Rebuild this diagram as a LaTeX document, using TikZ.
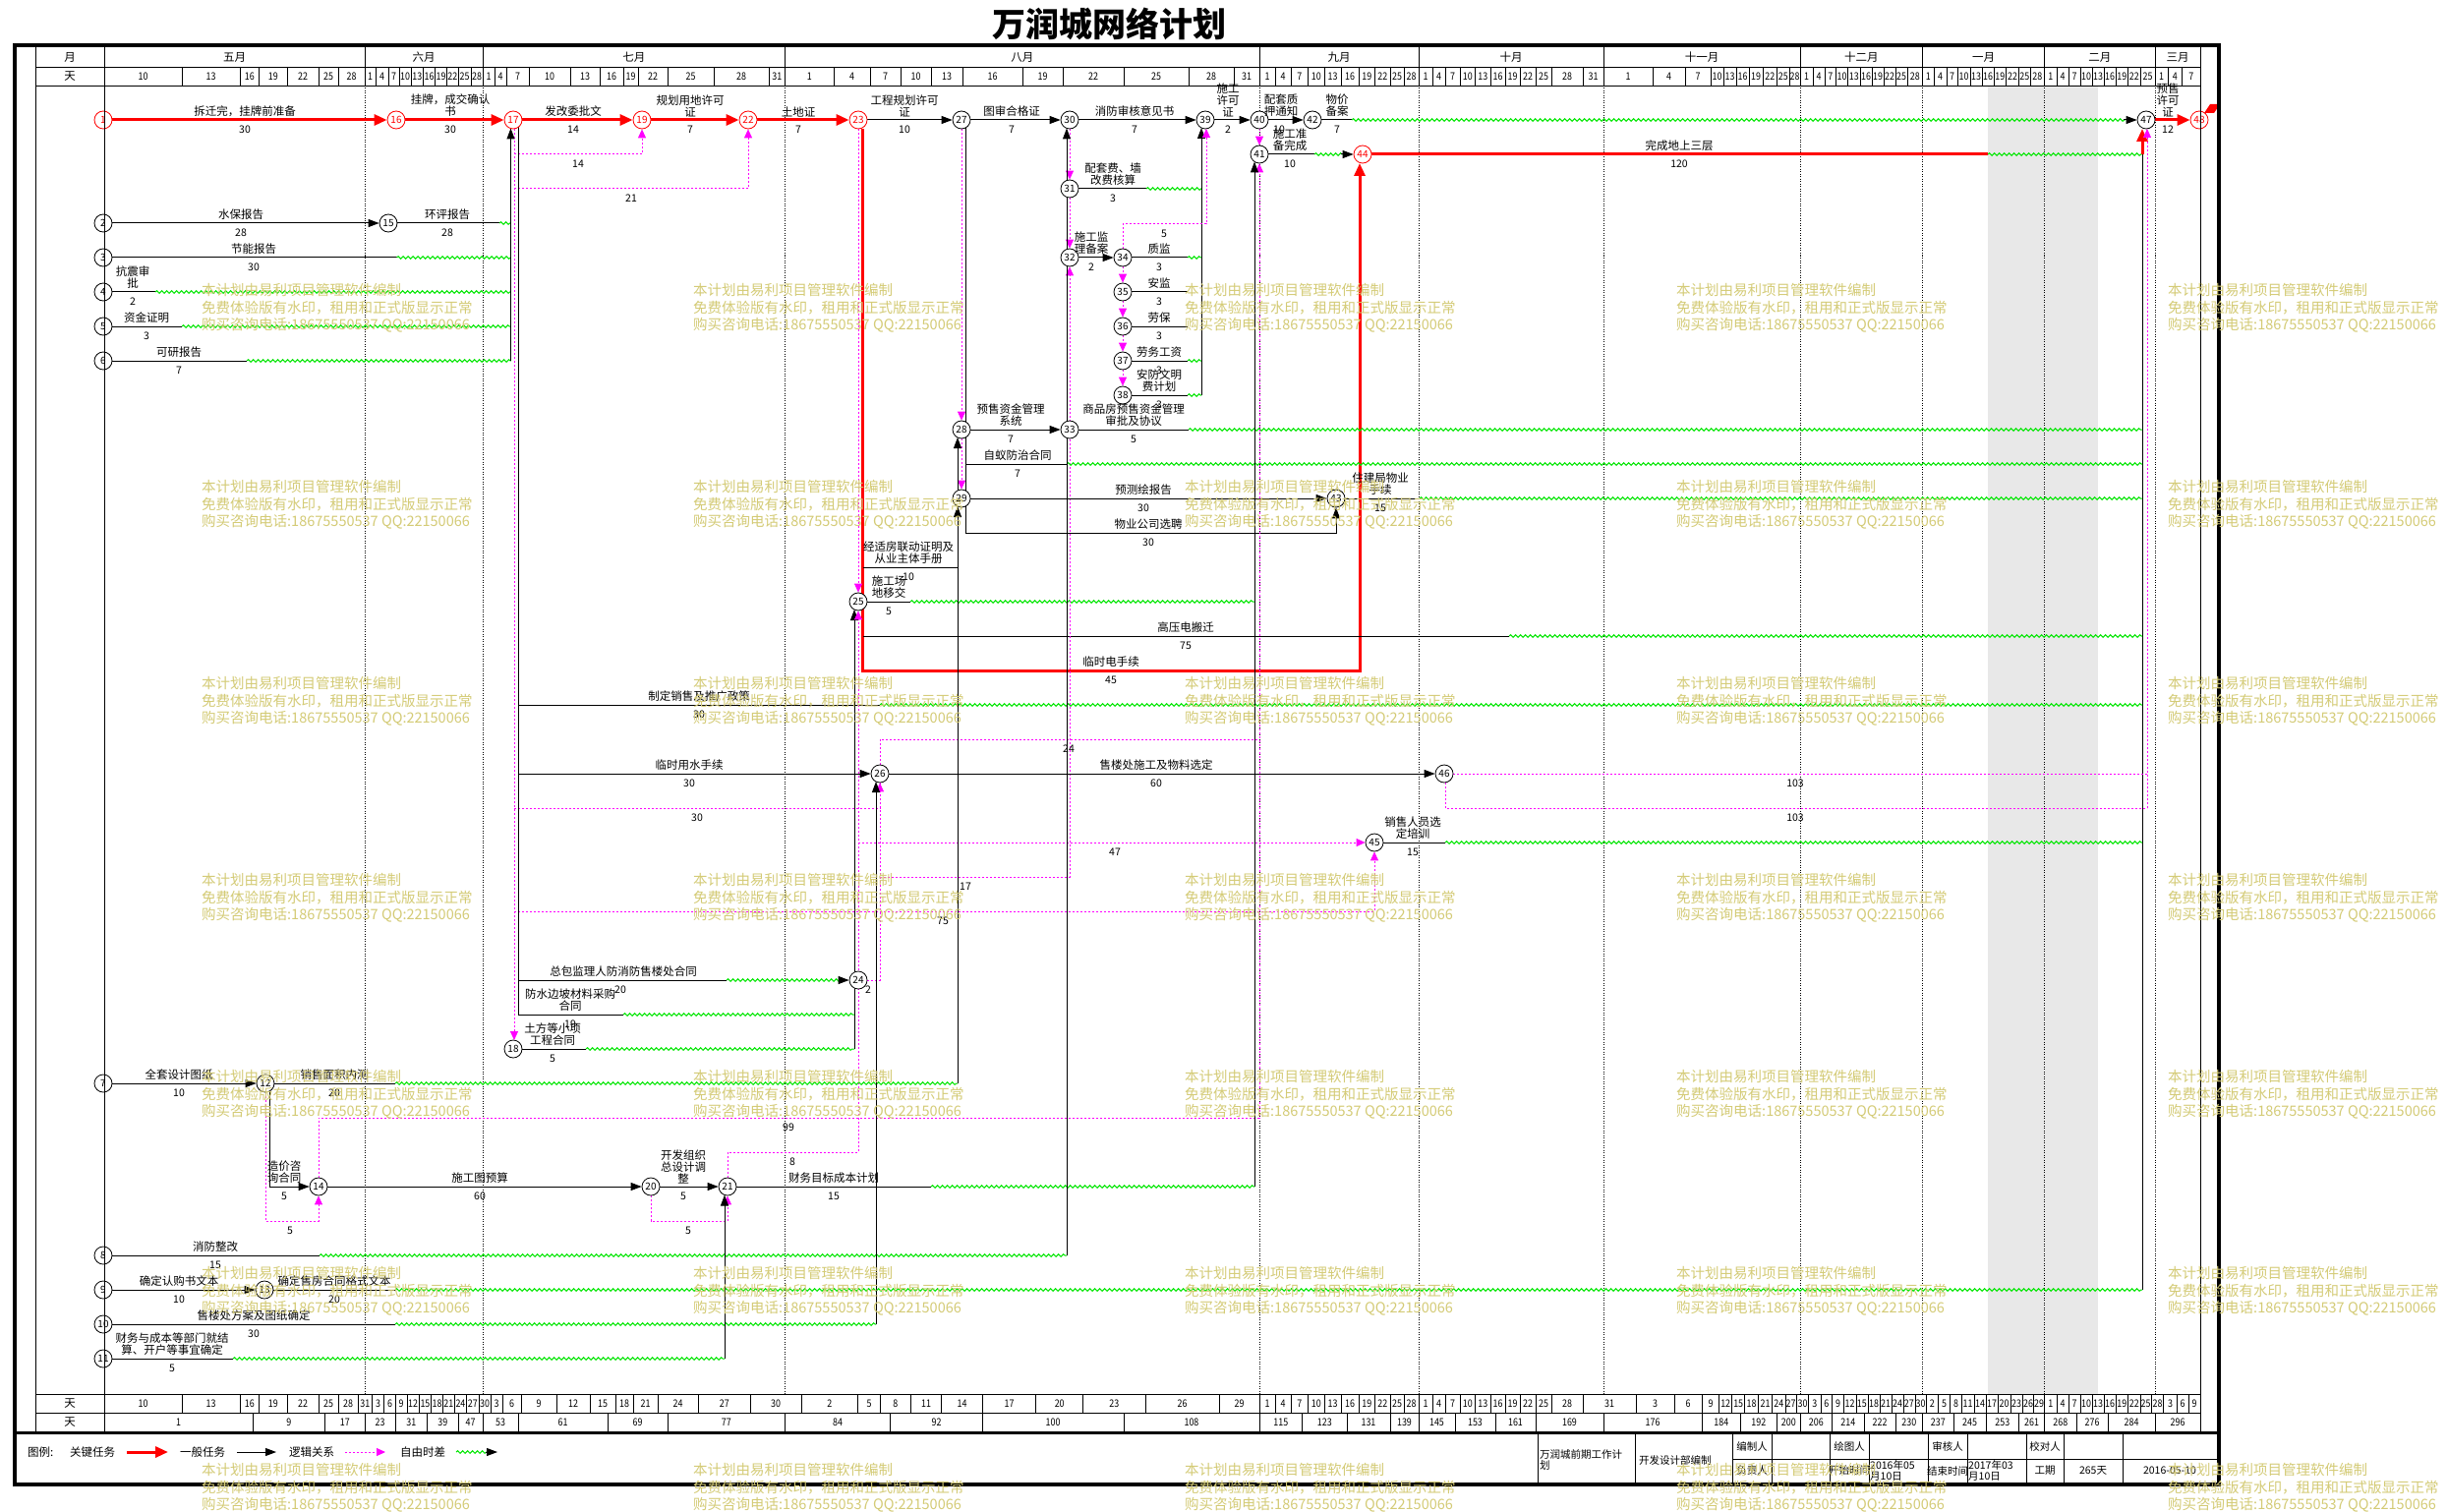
\documentclass[tikz,border=0pt]{standalone}
\usepackage{fontspec}
\setmainfont{Noto Sans CJK SC}
\newfontfamily\cjk{Noto Sans CJK SC}
\newfontfamily\cjkn[FakeStretch=0.85]{Noto Sans CJK SC}
\usetikzlibrary{arrows.meta,decorations.pathmorphing}
\definecolor{wgreen}{RGB}{0,230,0}
\definecolor{dmag}{RGB}{255,0,255}
\definecolor{wmc}{RGB}{212,203,118}
\definecolor{cred}{RGB}{255,0,0}
\pgfdeclarelayer{back}\pgfdeclarelayer{conn}\pgfdeclarelayer{front}
\pgfsetlayers{back,conn,main,front}
\newcommand\lfont{\cjk\fontsize{11.5}{12}\selectfont}
\newcommand\dfont{\cjk\fontsize{10.5}{11}\selectfont}
\newcommand\nfont{\cjk\fontsize{10}{11}\selectfont}
\newcommand\hfont{\cjkn\fontsize{10.5}{11}\selectfont}
\newcommand\mfont{\cjk\fontsize{11.5}{12}\selectfont}
\newcommand\wfont{\cjk\fontsize{14.5}{18}\selectfont}
\newcommand\tfont{\cjk\bfseries\fontsize{34}{36}\selectfont}
\newcommand\bfontx{\cjk\fontsize{10.5}{11.5}\selectfont}
\newcounter{lbc}
\newcommand\Lbl[3]{\stepcounter{lbc}\node[lab] (lb\arabic{lbc}) at (#1,{#2-3}) {#3};}
\newcommand\Nmb[3]{\stepcounter{lbc}\node[num] (nm\arabic{lbc}) at (#1,{#2+10}) {#3};}
\begin{document}
\begin{tikzpicture}[x=1pt,y=-1pt,
 nd/.style={circle,draw=black,fill=white,line width=0.8pt,minimum size=18pt,inner sep=0pt,font=\nfont},
 cn/.style={nd,draw=cred,text=cred},
 gen/.style={draw=black,line width=1pt},
 gena/.style={gen,-{Triangle[length=11pt,width=8pt]}},
 crit/.style={draw=cred,line width=3pt},
 crita/.style={crit,-{Triangle[length=13pt,width=11pt]}},
 dum/.style={draw=dmag,line width=1pt,dash pattern=on 2pt off 2pt},
 duma/.style={dum,-{Triangle[length=9pt,width=8pt]}},
 wav/.style={draw=wgreen,line width=1pt,decorate,decoration={snake,amplitude=1.3pt,segment length=5pt}},
 lab/.style={font=\lfont,align=center,inner sep=0pt,anchor=south},
 num/.style={font=\dfont,inner sep=0pt},
 mline/.style={draw=black,line width=0.7pt,dash pattern=on 1pt off 1.5pt},
 grid/.style={draw=black,line width=0.8pt},
 hd/.style={font=\hfont,inner sep=0pt},
 hm/.style={font=\mfont,inner sep=0pt},
 wm/.style={font=\wfont,text=wmc,anchor=west,inner sep=0pt},
 tb/.style={font=\bfontx,inner sep=0pt}
]
\useasboundingbox (0,0) rectangle (2489,1538);
\begin{pgfonlayer}{back}
\fill[white] (0,0) rectangle (2489,1538);
\fill[gray!18] (2022,87) rectangle (2134,1418);
\foreach \xx in {371,491,798.5,1281,1443,1631,1831,1955.5,2079.6,2192} {\draw[mline] (\xx,87) -- (\xx,1418);}
\end{pgfonlayer}

% ---------- nodes ----------
\node[cn] (n1) at (105,122) {1};
\node[nd] (n2) at (105,227) {2};
\node[nd] (n3) at (105,262) {3};
\node[nd] (n4) at (105,297) {4};
\node[nd] (n5) at (105,332) {5};
\node[nd] (n6) at (105,367) {6};
\node[nd] (n7) at (105,1102) {7};
\node[nd] (n8) at (105,1277) {8};
\node[nd] (n9) at (105,1312) {9};
\node[nd] (n10) at (105,1347) {10};
\node[nd] (n11) at (105,1382) {11};
\node[nd] (n12) at (270,1102) {12};
\node[nd] (n13) at (269,1312) {13};
\node[nd] (n14) at (324,1207) {14};
\node[nd] (n15) at (395,227) {15};
\node[cn] (n16) at (403,122) {16};
\node[cn] (n17) at (522,122) {17};
\node[nd] (n18) at (522,1067) {18};
\node[cn] (n19) at (653,122) {19};
\node[nd] (n20) at (662,1207) {20};
\node[nd] (n21) at (740,1207) {21};
\node[cn] (n22) at (761,122) {22};
\node[cn] (n23) at (873,122) {23};
\node[nd] (n24) at (873,997) {24};
\node[nd] (n25) at (873,612) {25};
\node[nd] (n26) at (895,787) {26};
\node[nd] (n27) at (978,122) {27};
\node[nd] (n28) at (978,437) {28};
\node[nd] (n29) at (978,507) {29};
\node[nd] (n30) at (1088,122) {30};
\node[nd] (n31) at (1088,192) {31};
\node[nd] (n32) at (1088,262) {32};
\node[nd] (n33) at (1088,437) {33};
\node[nd] (n34) at (1142,262) {34};
\node[nd] (n35) at (1142,297) {35};
\node[nd] (n36) at (1142,332) {36};
\node[nd] (n37) at (1142,367) {37};
\node[nd] (n38) at (1142,402) {38};
\node[nd] (n39) at (1226,122) {39};
\node[nd] (n40) at (1281,122) {40};
\node[nd] (n41) at (1281,157) {41};
\node[nd] (n42) at (1335,122) {42};
\node[nd] (n43) at (1359,507) {43};
\node[cn] (n44) at (1386,157) {44};
\node[nd] (n45) at (1398,857) {45};
\node[nd] (n46) at (1469,787) {46};
\node[nd] (n47) at (2183,122) {47};
\node[cn] (n48) at (2237,122) {48};

% ---------- connectors ----------
\begin{pgfonlayer}{conn}
% critical path
\draw[crita] (n1) -- (n16);
\draw[crita] (n16) -- (n17);
\draw[crita] (n17) -- (n19);
\draw[crita] (n19) -- (n22);
\draw[crita] (n22) -- (n23);
\draw[crita] (877,131) -- (877,682) -- (1383,682) -- (1383,166);
\draw[crit] (n44) -- (2022,157);
\draw[wav] (2022,157) -- (2179,157);
\draw[crita] (2179,157) -- (2179,131);
\draw[crita] (n47) -- (n48);
\fill[cred] (2242,115) -- (2248,106) -- (2258,106) -- (2252,115) -- cycle;
% top row general
\draw[gena] (n23) -- (n27);
\draw[gena] (n27) -- (n30);
\draw[gena] (n30) -- (n39);
\draw[gena] (n39) -- (n40);
\draw[gena] (n40) -- (n42);
\draw[gen] (n42) -- (1375,122);
\draw[wav] (1375,122) -- (2162,122);
\draw[gena] (2160,122) -- (n47);
\draw[duma] (n40) -- (n41);
\draw[gen] (n41) -- (1337,157);
\draw[wav] (1337,157) -- (1366,157);
\draw[gena] (1364,157) -- (n44);
\draw[gen] (2179,1312) -- (2179,157);
% 17 dummies
\draw[duma] (523,131) -- (523,1058);
\draw[duma] (523,157) -| (n19);
\draw[duma] (523,192) -| (n22);
\draw[duma] (523,822) -| (n26);
\draw[duma] (523,927) -| (n45);
% rows 2-6
\draw[gena] (n2) -- (n15);
\draw[gen] (n15) -- (508,227); \draw[wav] (508,227) -- (519.5,227);
\draw[gen] (n3) -- (403.6,262); \draw[wav] (403.6,262) -- (519.5,262);
\draw[gen] (n4) -- (158,297); \draw[wav] (158,297) -- (519.5,297);
\draw[gen] (n5) -- (185,332); \draw[wav] (185,332) -- (519.5,332);
\draw[gen] (n6) -- (251,367); \draw[wav] (251,367) -- (519.5,367);
\draw[gena] (519.5,367) -- (519.5,130.5);
% 17 outgoing trunk
\draw[gen] (527,129.5) -- (527,1032);
\draw[gen] (527,717) -- (895,717); \draw[wav] (895,717) -- (2179,717);
\draw[gena] (527,787) -- (n26);
\draw[gen] (527,997) -- (739,997); \draw[wav] (739,997) -- (860,997); \draw[gena] (858,997) -- (n24);
\draw[gen] (527,1032) -- (634,1032); \draw[wav] (634,1032) -- (869,1032);
\draw[gen] (n18) -- (596,1067); \draw[wav] (596,1067) -- (869,1067);
\draw[gen] (869,1067) -- (869,1005);
\draw[gena] (869,989) -- (869,620);
% 23 area
\draw[duma] (n23) -- (n25);
\draw[gen] (878,577) -- (974,577);
\draw[gen] (878,647) -- (1535,647); \draw[wav] (1535,647) -- (2179,647);
\draw[gen] (n25) -- (926,612); \draw[wav] (926,612) -- (1276,612);
\draw[duma] (873,857) -- (n45);
\draw[duma] (n21) |- (873,1172) -- (n25);
% 24 / 26 dummies
\draw[dum] (n24) -| (895,752) -- (1281,752);
\draw[duma] (895,892) -- (1088,892) -- (n32);
\draw[gena] (n26) -- (n46);
\draw[dum] (n46) -- (2184,787);
\draw[dum] (1470,796) |- (2184,822);
\draw[duma] (2184,822) -- (2184,131);
\draw[gen] (n45) -- (1470,857); \draw[wav] (1470,857) -- (2179,857);
% 27-33
\draw[duma] (n27) -- (n28);
\draw[duma] (n28) -- (n29);
\draw[gen] (982,130) -- (982,542);
\draw[gen] (982,472) -- (1085,472); \draw[wav] (1085,472) -- (2179,472);
\draw[gena] (982,542) -| (n43);
\draw[gena] (n29) -- (n43);
\draw[gen] (n43) -- (1444,507); \draw[wav] (1444,507) -- (2179,507);
\draw[gena] (n28) -- (n33);
\draw[gen] (n33) -- (1209,437); \draw[wav] (1209,437) -- (2179,437);
\draw[gena] (974,1102) -- (974,515);
\draw[gena] (974,499) -- (974,445);
\draw[duma] (n30) -- (n31);
\draw[duma] (n31) -- (n32);
\draw[gen] (n31) -- (1166,192); \draw[wav] (1166,192) -- (1222,192);
\draw[gena] (n32) -- (n34);
\draw[gen] (n34) -- (1208,262); \draw[wav] (1208,262) -- (1222,262);
\draw[gen] (n35) -- (1208,297);
\draw[gen] (n36) -- (1208,332);
\draw[gen] (n37) -- (1208,367); \draw[wav] (1208,367) -- (1222,367);
\draw[gen] (n38) -- (1208,402); \draw[wav] (1208,402) -- (1222,402);
\draw[gena] (1222,402) -- (1222,130);
\draw[duma] (n34) -- (n35);
\draw[duma] (n35) -- (n36);
\draw[duma] (n36) -- (n37);
\draw[duma] (n37) -- (n38);
\draw[duma] (n34) |- (1227,228) -- (1227,131);
% bottom area
\draw[gena] (n7) -- (n12);
\draw[gen] (n12) -- (402,1102); \draw[wav] (402,1102) -- (974,1102);
\draw[gena] (274,1110) |- (n14);
\draw[duma] (n12) |- (324,1242) -- (n14);
\draw[duma] (n14) |- (1281,1137) -- (n41);
\draw[gena] (n14) -- (n20);
\draw[gena] (n20) -- (n21);
\draw[duma] (n20) |- (740,1242) -- (n21);
\draw[gen] (n21) -- (947,1207); \draw[wav] (947,1207) -- (1276,1207);
\draw[gena] (1276,1207) -- (1276,164.5);
\draw[gen] (n8) -- (325,1277); \draw[wav] (325,1277) -- (1085,1277);
\draw[gena] (1085,1277) -- (1085,130.5);
\draw[gena] (n9) -- (n13);
\draw[gen] (n13) -- (402,1312); \draw[wav] (402,1312) -- (2179,1312);
\draw[gen] (n10) -- (402,1347); \draw[wav] (402,1347) -- (891,1347);
\draw[gena] (891,1347) -- (891,795);
\draw[gen] (n11) -- (237,1382); \draw[wav] (237,1382) -- (737,1382);
\draw[gena] (737,1382) -- (737,1215.5);
\end{pgfonlayer}

% ---------- labels ----------
\Lbl{249}{122}{拆迁完，挂牌前准备} \Nmb{249}{122}{30}
\Lbl{458}{122}{挂牌，成交确认\\书} \Nmb{458}{122}{30}
\Lbl{583}{122}{发改委批文} \Nmb{583}{122}{14}
\Lbl{702}{122}{规划用地许可\\证} \Nmb{702}{122}{7}
\Lbl{812}{122}{土地证} \Nmb{812}{122}{7}
\Lbl{920}{122}{工程规划许可\\证} \Nmb{920}{122}{10}
\Lbl{1029}{122}{图审合格证} \Nmb{1029}{122}{7}
\Lbl{1154}{122}{消防审核意见书} \Nmb{1154}{122}{7}
\Lbl{1249}{122}{施工\\许可\\证} \Nmb{1249}{122}{2}
\Lbl{1303}{122}{配套质\\押通知} \Nmb{1301}{122}{10}
\Lbl{1360}{122}{物价\\备案} \Nmb{1360}{122}{7}
\Lbl{2205}{122}{预售\\许可\\证} \Nmb{2205}{122}{12}
\Lbl{1312}{157}{施工准\\备完成} \Nmb{1312}{157}{10}
\Lbl{1708}{157}{完成地上三层} \Nmb{1708}{157}{120}
\Nmb{588}{157}{14} \Nmb{642}{192}{21}
\Lbl{245}{227}{水保报告} \Nmb{245}{227}{28}
\Lbl{455}{227}{环评报告} \Nmb{455}{227}{28}
\Lbl{258}{262}{节能报告} \Nmb{258}{262}{30}
\Lbl{135}{297}{抗震审\\批} \Nmb{135}{297}{2}
\Lbl{149}{332}{资金证明} \Nmb{149}{332}{3}
\Lbl{182}{367}{可研报告} \Nmb{182}{367}{7}
\Lbl{1132}{192}{配套费、墙\\改费核算} \Nmb{1132}{192}{3}
\Lbl{1110}{262}{施工监\\理备案} \Nmb{1110}{262}{2}
\Lbl{1179}{262}{质监} \Nmb{1179}{262}{3}
\Nmb{1184}{228}{5}
\Lbl{1179}{297}{安监} \Nmb{1179}{297}{3}
\Lbl{1179}{332}{劳保} \Nmb{1179}{332}{3}
\Lbl{1179}{367}{劳务工资} \Nmb{1179}{367}{3}
\Lbl{1179}{402}{安防文明\\费计划} \Nmb{1179}{402}{3}
\Lbl{1028}{437}{预售资金管理\\系统} \Nmb{1028}{437}{7}
\Lbl{1153}{437}{商品房预售资金管理\\审批及协议} \Nmb{1153}{437}{5}
\Lbl{1035}{472}{自蚁防治合同} \Nmb{1035}{472}{7}
\Lbl{1163}{507}{预测绘报告} \Nmb{1163}{507}{30}
\Lbl{1404}{507}{住建局物业\\手续} \Nmb{1404}{507}{15}
\Lbl{1168}{542}{物业公司选聘} \Nmb{1168}{542}{30}
\Lbl{924}{577}{经适房联动证明及\\从业主体手册} \Nmb{924}{577}{10}
\Lbl{904}{612}{施工场\\地移交} \Nmb{904}{612}{5}
\Lbl{1206}{647}{高压电搬迁} \Nmb{1206}{647}{75}
\Lbl{1130}{682}{临时电手续} \Nmb{1130}{682}{45}
\Lbl{711}{717}{制定销售及推广政策} \Nmb{711}{717}{30}
\Nmb{1087}{752}{24}
\Lbl{701}{787}{临时用水手续} \Nmb{701}{787}{30}
\Lbl{1176}{787}{售楼处施工及物料选定} \Nmb{1176}{787}{60}
\Nmb{1826}{787}{103}
\Nmb{709}{822}{30} \Nmb{1826}{822}{103}
\Lbl{1437}{857}{销售人员选\\定培训} \Nmb{1437}{857}{15}
\Nmb{1134}{857}{47}
\Nmb{982}{892}{17}
\Nmb{959}{927}{75}
\Lbl{634}{997}{总包监理人防消防售楼处合同} \Nmb{631}{997}{20}
\Nmb{883}{997}{2}
\Lbl{580}{1032}{防水边坡材料采购\\合同} \Nmb{580}{1032}{19}
\Lbl{562}{1067}{土方等小项\\工程合同} \Nmb{562}{1067}{5}
\Lbl{182}{1102}{全套设计图纸} \Nmb{182}{1102}{10}
\Lbl{340}{1102}{销售面积内测} \Nmb{340}{1102}{20}
\Nmb{802}{1137}{99}
\Nmb{806}{1172}{8}
\Lbl{289}{1207}{造价咨\\询合同} \Nmb{289}{1207}{5}
\Lbl{488}{1207}{施工图预算} \Nmb{488}{1207}{60}
\Lbl{695}{1207}{开发组织\\总设计调\\整} \Nmb{695}{1207}{5}
\Lbl{848}{1207}{财务目标成本计划} \Nmb{848}{1207}{15}
\Nmb{295}{1242}{5} \Nmb{700}{1242}{5}
\Lbl{219}{1277}{消防整改} \Nmb{219}{1277}{15}
\Lbl{182}{1312}{确定认购书文本} \Nmb{182}{1312}{10}
\Lbl{340}{1312}{确定售房合同格式文本} \Nmb{340}{1312}{20}
\Lbl{258}{1347}{售楼处方案及图纸确定} \Nmb{258}{1347}{30}
\Lbl{175}{1382}{财务与成本等部门就结\\算、开户等事宜确定} \Nmb{175}{1382}{5}

% ---------- frame and scales ----------
\node[font=\tfont,inner sep=0pt] (title) at (1128,24) {万润城网络计划};
\draw[line width=4pt] (15,46.5) rectangle (2257,1510);
\draw[line width=3pt] (15,1457.5) -- (2257,1457.5);
\draw[grid] (36,48) -- (36,1457);
\draw[grid] (2238,48) -- (2238,1457);
\draw[grid] (106,48) -- (106,1456);
\draw[grid] (36,68) -- (2238,68);
\draw[grid] (36,87) -- (2238,87);
\draw[grid] (36,1418) -- (2238,1418);
\draw[grid] (36,1437) -- (2238,1437);
\node[hm] (hmo) at (71,58) {月};
\node[hm] (hdy) at (71,77.5) {天};
\node[hm] (bdy1) at (71,1427.5) {天};
\node[hm] (bdy2) at (71,1446.5) {天};
\foreach \xa/\xb/\tx [count=\i] in {106/371/五月,371/491/六月,491/798.5/七月,798.5/1281/八月,1281/1443/九月,1443/1631/十月,1631/1831/十一月,1831/1955.5/十二月,1955.5/2079.6/一月,2079.6/2192/二月,2192/2238/三月}
 {\draw[grid] (\xb,48) -- (\xb,68); \node[hm] (mo\i) at ({(\xa+\xb)/2},58) {\tx};}
\foreach \xa/\xb/\tx [count=\i] in {106/185/10,185/244/13,244/263.5/16,263.5/292/19,292/324/22,324/344/25,344/371/28,
371/382/1,382/395/4,395/406/7,406/418/10,418/430.5/13,430.5/442.6/16,442.6/454.6/19,454.6/466/22,466/479/25,479/491/28,
491/503/1,503/515/4,515/538/7,538/580/10,580/610/13,610/634/16,634/649/19,649/679/22,679/726/25,726/782/28,782/798.5/31,
798.5/848/1,848/885/4,885/916/7,916/947/10,947/979/13,979/1040/16,1040/1081/19,1081/1143/22,1143/1209/25,1209/1255/28,1255/1281/31,
1281/1297/1,1297/1313/4,1313/1330.6/7,1330.6/1347/10,1347/1364/13,1364/1382/16,1382/1398.5/19,1398.5/1414/22,1414/1428/25,1428/1443/28,
1443/1457/1,1457/1470/4,1470/1485/7,1485/1500.5/10,1500.5/1516/13,1516/1531/16,1531/1546/19,1546/1562/22,1562/1578/25,1578/1610/28,1610/1631/31,
1631/1681/1,1681/1714/4,1714/1740/7,1740/1753/10,1753/1766/13,1766/1779/16,1779/1793/19,1793/1807.5/22,1807.5/1820/25,1820/1831/28,
1831/1844/1,1844/1856/4,1856/1867.6/7,1867.6/1879.5/10,1879.5/1892/13,1892/1904/16,1904/1916/19,1916/1928/22,1928/1940/25,1940/1955.5/28,
1955.5/1967/1,1967/1980/4,1980/1991/7,1991/2004/10,2004/2016/13,2016/2028/16,2028/2040.5/19,2040.5/2053.5/22,2053.5/2065/25,2065/2079.6/28,
2079.6/2092/1,2092/2104/4,2104/2116/7,2116/2128/10,2128/2140/13,2140/2152/16,2152/2164.6/19,2164.6/2177/22,2177/2192/25,
2192/2205/1,2205/2219.6/4,2219.6/2238/7}
 {\draw[grid,line width=0.6pt] (\xb,68) -- (\xb,87); \node[hd] (dy\i) at ({(\xa+\xb)/2},77.5) {\tx};}
\foreach \xa/\xb/\tx [count=\i] in {106/185/10,185/244/13,244/263.5/16,263.5/292/19,292/324/22,324/344/25,344/364.3/28,364.3/378.3/31,
378.3/390.7/3,390.7/402.3/6,402.3/414/9,414/426.3/12,426.3/438.6/15,438.6/450.6/18,450.6/462.2/21,462.2/474.7/24,474.7/487/27,487/499/30,
499/511/3,511/530.3/6,530.3/566/9,566/600/12,600/626/15,626/644/18,644/669/21,669/710.3/24,710.3/763.3/27,763.3/815/30,
815/872.7/2,872.7/895.3/5,895.3/926.3/8,926.3/957.7/11,957.7/999.3/14,999.3/1053.7/17,1053.7/1101.7/20,1101.7/1165/23,1165/1240.3/26,1240.3/1281/29,
1281/1297/1,1297/1313/4,1313/1330.6/7,1330.6/1347/10,1347/1364/13,1364/1382/16,1382/1398.5/19,1398.5/1414/22,1414/1428/25,1428/1443/28,
1443/1457/1,1457/1470/4,1470/1485/7,1485/1500.5/10,1500.5/1516/13,1516/1531/16,1531/1546/19,1546/1562/22,1562/1578/25,1578/1610/28,1610/1664.3/31,
1664.3/1703/3,1703/1731.3/6,1731.3/1748.7/9,1748.7/1761.7/12,1761.7/1774.7/15,1774.7/1788.3/18,1788.3/1802.7/21,1802.7/1815.8/24,1815.8/1827.3/27,1827.3/1839.7/30,
1839.7/1852/3,1852/1863.7/6,1863.7/1875.5/9,1875.5/1887.8/12,1887.8/1900/15,1900/1912/18,1912/1924/21,1924/1936/24,1936/1947.8/27,1947.8/1959.3/30,
1959.3/1971.3/2,1971.3/1983.7/5,1983.7/1995.3/8,1995.3/2008/11,2008/2020/14,2020/2032.2/17,2032.2/2044.8/20,2044.8/2057.3/23,2057.3/2068.7/26,2068.7/2079.6/29,
2079.6/2092/1,2092/2104/4,2104/2116/7,2116/2128/10,2128/2140/13,2140/2152/16,2152/2164.6/19,2164.6/2177/22,2177/2188.3/25,2188.3/2200.7/28,
2200.7/2214.3/3,2214.3/2226/6,2226/2238/9}
 {\draw[grid,line width=0.6pt] (\xb,1418) -- (\xb,1437); \node[hd] (bd\i) at ({(\xa+\xb)/2},1427.5) {\tx};}
\draw[grid,line width=0.6pt] (106,1418) -- (106,1437);
\foreach \xa/\xb/\tx [count=\i] in {106/257/1,257/330.7/9,330.7/371/17,371/402.3/23,402.3/434.5/31,434.5/466/39,466/491/47,491/527/53,527/618/61,618/679/69,679/798.5/77,798.5/905.7/84,905.7/999.3/92,999.3/1143/100,1143/1281/108,1281/1324.7/115,1324.7/1370/123,1370/1414/131,1414/1443/139,1443/1480/145,1480/1521/153,1521/1562/161,1562/1631/169,1631/1731.3/176,1731.3/1770.3/184,1770.3/1807.5/192,1807.5/1831/200,1831/1863.7/206,1863.7/1896/214,1896/1928/222,1928/1955.5/230,1955.5/1987.3/237,1987.3/2020/245,2020/2053.5/253,2053.5/2079.6/261,2079.6/2112/268,2112/2144/276,2144/2192/284,2192/2238/296}
 {\draw[grid,line width=0.6pt] (\xb,1437) -- (\xb,1456); \node[hd] (bc\i) at ({(\xa+\xb)/2},1446.5) {\tx};}

% ---------- legend ----------
\node[font=\lfont,inner sep=0pt,anchor=west] (lg0) at (28,1477) {图例:};
\node[font=\lfont,inner sep=0pt] (lg1) at (94,1477) {关键任务};
\coordinate (la1) at (129,1477); \coordinate (lb1) at (171,1477);
\draw[crita] (la1) -- (lb1);
\node[font=\lfont,inner sep=0pt] (lg2) at (206,1477) {一般任务};
\coordinate (la2) at (241,1477); \coordinate (lb2) at (281,1477);
\draw[gena] (la2) -- (lb2);
\node[font=\lfont,inner sep=0pt] (lg3) at (317,1477) {逻辑关系};
\coordinate (la3) at (351,1477); \coordinate (lb3) at (392,1477);
\draw[duma] (la3) -- (lb3);
\node[font=\lfont,inner sep=0pt] (lg4) at (430,1477) {自由时差};
\coordinate (la4) at (464,1477); \coordinate (lm4) at (497,1477); \coordinate (lb4) at (506,1477);
\draw[wav] (la4) -- (lm4);
\draw[gena] (494,1477) -- (lb4);

% ---------- title block ----------
\foreach \xx in {1564,1663,1762,1802,1861,1901,1961,2001,2061,2099,2159} {\draw[grid] (\xx,1459) -- (\xx,1508);}
\draw[grid] (1762,1484) -- (2256,1484);
\node[tb,anchor=west,align=left] (tb1) at (1566,1485) {万润城前期工作计\\划};
\node[tb,anchor=west] (tb2) at (1667,1485) {开发设计部编制};
\node[tb] (tb3) at (1782,1471) {编制人};
\node[tb] (tb4) at (1881,1471) {绘图人};
\node[tb] (tb5) at (1981,1471) {审核人};
\node[tb] (tb6) at (2080,1471) {校对人};
\node[tb] (tb7) at (1782,1496) {负责人};
\node[tb] (tb8) at (1881,1496) {开始时间};
\node[tb,anchor=west,align=left] (tb9) at (1902,1496) {2016年05\\月10日};
\node[tb] (tb10) at (1981,1496) {结束时间};
\node[tb,anchor=west,align=left] (tb11) at (2002,1496) {2017年03\\月10日};
\node[tb] (tb12) at (2080,1496) {工期};
\node[tb] (tb13) at (2129,1496) {265天};
\node[tb] (tb14) at (2207,1496) {2016-05-10};

% ---------- watermarks ----------
\begin{pgfonlayer}{front}
\foreach \wx in {205,705,1205,1705,2205} {\foreach \wy in {295,495,695,895,1095,1295,1495} {
 \node[wm] (wa\wx-\wy) at (\wx,\wy) {本计划由易利项目管理软件编制};
 \node[wm] (wb\wx-\wy) at (\wx,\wy+18) {免费体验版有水印，租用和正式版显示正常};
 \node[wm] (wc\wx-\wy) at (\wx,\wy+36) {购买咨询电话:18675550537 QQ:22150066};
}}
\end{pgfonlayer}
\end{tikzpicture}
\end{document}
